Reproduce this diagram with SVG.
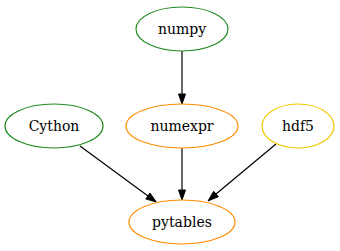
<svg xmlns="http://www.w3.org/2000/svg" width="340" height="251" viewBox="0 0 340 251">
  <style>
    .node ellipse { fill: none; stroke-width: 1.2; }
    .node text { font-family: "DejaVu Serif", serif; font-size: 14px; text-anchor: middle; fill: #000; }
    .edge line { stroke: #000; stroke-width: 1.2; }
    .edge polygon { fill: #000; stroke: #000; }
  </style>
  <rect width="340" height="251" fill="#fff"/>
  <g id="edges" class="edge">
    <!-- numpy -> numexpr -->
    <line x1="182" y1="51" x2="182" y2="94"/>
    <polygon points="178.5,94 185.5,94 182,104"/>
    <!-- numexpr -> pytables -->
    <line x1="182" y1="148" x2="182" y2="190"/>
    <polygon points="178.5,190 185.5,190 182,200"/>
    <!-- Cython -> pytables -->
    <line x1="80" y1="146" x2="148" y2="196"/>
    <polygon points="145.8,198.9 150.0,193.1 156.2,202"/>
    <!-- hdf5 -> pytables -->
    <line x1="276" y1="144" x2="216" y2="194"/>
    <polygon points="213.7,191.3 218.3,196.7 208,201"/>
  </g>
  <g id="numpy" class="node">
    <ellipse cx="182" cy="29" rx="46" ry="22" stroke="#228b22"/>
    <text x="182" y="34">numpy</text>
  </g>
  <g id="Cython" class="node">
    <ellipse cx="54" cy="126" rx="49" ry="22" stroke="#228b22"/>
    <text x="54" y="131">Cython</text>
  </g>
  <g id="numexpr" class="node">
    <ellipse cx="182" cy="126" rx="56" ry="22" stroke="#ff8c00"/>
    <text x="182" y="131">numexpr</text>
  </g>
  <g id="hdf5" class="node">
    <ellipse cx="298" cy="126" rx="36" ry="22" stroke="#f0c800"/>
    <text x="298" y="131">hdf5</text>
  </g>
  <g id="pytables" class="node">
    <ellipse cx="182" cy="222" rx="53" ry="22" stroke="#ff8c00"/>
    <text x="182" y="227">pytables</text>
  </g>
</svg>
